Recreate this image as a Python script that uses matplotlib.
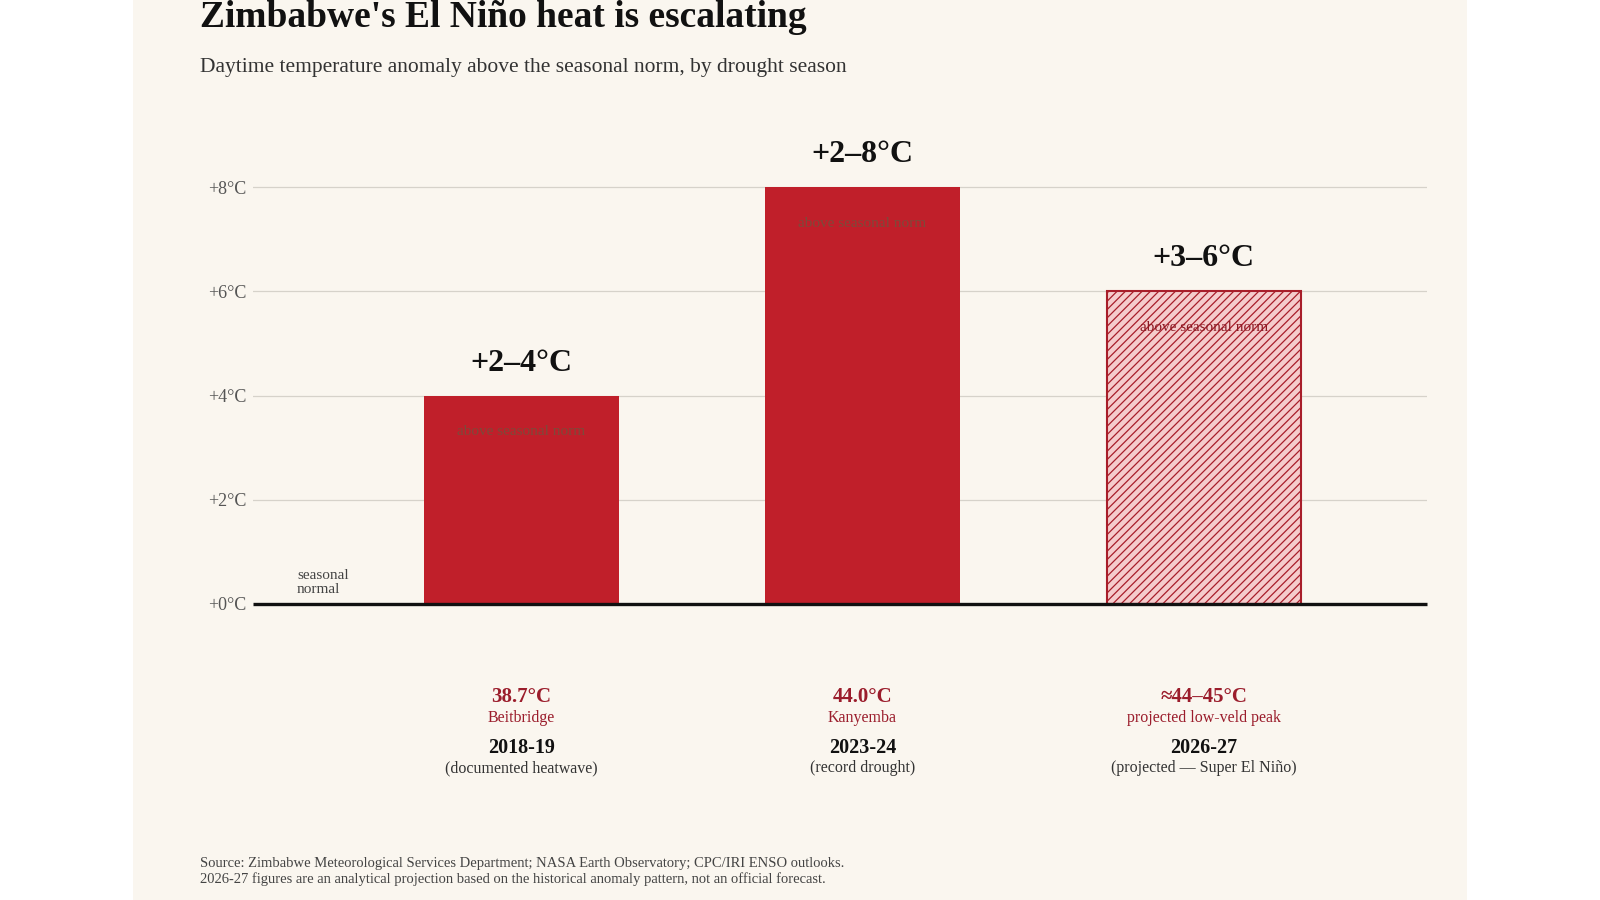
import matplotlib
matplotlib.use("Agg")
import matplotlib.pyplot as plt
from matplotlib.patches import Rectangle
from matplotlib.transforms import blended_transform_factory

plt.rcParams["font.family"] = ["Liberation Serif", "DejaVu Serif"]
plt.rcParams["hatch.linewidth"] = 0.9

# data
seasons = ["2018-19", "2023-24", "2026-27"]
season_notes = ["(documented heatwave)", "(record drought)", "(projected \u2014 Super El Ni\u00f1o)"]
anomaly_top = [4, 8, 6]
anomaly_labels = ["+2\u20134\u00b0C", "+2\u20138\u00b0C", "+3\u20136\u00b0C"]
peak_temps = ["38.7\u00b0C", "44.0\u00b0C", "\u224844\u201345\u00b0C"]
peak_places = ["Beitbridge", "Kanyemba", "projected low-veld peak"]
is_projection = [False, False, True]
y_ticks = [0, 2, 4, 6, 8]

RED = "#c01f2a"
DARK_RED = "#9b1d2c"
CREAM = "#faf6ef"

fig = plt.figure(figsize=(16, 9), dpi=100, facecolor="white")
fig.patches.append(Rectangle((133 / 1600, 0), 1334 / 1600, 1, transform=fig.transFigure,
                             facecolor=CREAM, edgecolor="none", zorder=-10))

ax = fig.add_axes([253 / 1600, 296 / 900, 1174 / 1600, 469 / 900])
ax.set_facecolor("none")

x = list(range(len(seasons)))
for i, (val, proj) in enumerate(zip(anomaly_top, is_projection)):
    if proj:
        ax.bar(i, val, width=0.57, facecolor="#f5cccc", edgecolor="#a81e2a",
               hatch="////", linewidth=1.5, zorder=3)
        inner_color = "#8b1a24"
    else:
        ax.bar(i, val, width=0.57, color=RED, zorder=3)
        inner_color = "#7d4a3a"
    ax.annotate(anomaly_labels[i], (i, val), xytext=(0, 18), textcoords="offset points",
                ha="center", va="baseline", fontsize=23, fontweight="bold", color="#111111")
    ax.annotate("above seasonal norm", (i, val), xytext=(0, -26), textcoords="offset points",
                ha="center", va="center", fontsize=11, color=inner_color, zorder=4)

ax.set_xlim(-0.786, 2.654)
ax.set_ylim(0, 9)
ax.set_yticks(y_ticks)
ax.set_yticklabels([f"+{t}\u00b0C" for t in y_ticks])
ax.tick_params(axis="y", length=0, pad=5, labelsize=13, labelcolor="#555555")
ax.set_xticks([])
for side in ["top", "right", "left", "bottom"]:
    ax.spines[side].set_visible(False)
for t in y_ticks[1:]:
    ax.axhline(t, color="#d6d2ca", linewidth=0.9, zorder=1)
ax.axhline(0, color="#111111", linewidth=2.4, zorder=5, clip_on=False, solid_capstyle="butt")

ax.text(-0.657, 0.16, "seasonal\nnormal", ha="left", va="bottom", fontsize=11,
        color="#444444", linespacing=1.05)

# labels under the bars
trans = blended_transform_factory(ax.transData, fig.transFigure)
for i in x:
    ax.text(i, 1 - 702 / 900, peak_temps[i], transform=trans, ha="center", va="baseline",
            fontsize=15, fontweight="bold", color=DARK_RED)
    ax.text(i, 1 - 722 / 900, peak_places[i], transform=trans, ha="center", va="baseline",
            fontsize=11.5, color=DARK_RED)
    ax.text(i, 1 - 753 / 900, seasons[i], transform=trans, ha="center", va="baseline",
            fontsize=14.5, fontweight="bold", color="#111111")
    ax.text(i, 1 - 772 / 900, season_notes[i], transform=trans, ha="center", va="baseline",
            fontsize=11.5, color="#333333")

fig.text(200 / 1600, 1 - 27 / 900, "Zimbabwe's El Ni\u00f1o heat is escalating",
         ha="left", va="baseline", fontsize=27, fontweight="bold", color="#111111")
fig.text(200 / 1600, 1 - 72 / 900,
         "Daytime temperature anomaly above the seasonal norm, by drought season",
         ha="left", va="baseline", fontsize=15.5, color="#333333")

fig.text(200 / 1600, 1 - 867 / 900,
         "Source: Zimbabwe Meteorological Services Department; NASA Earth Observatory; CPC/IRI ENSO outlooks.",
         ha="left", va="baseline", fontsize=10.5, color="#444444")
fig.text(200 / 1600, 1 - 883 / 900,
         "2026-27 figures are an analytical projection based on the historical anomaly pattern, not an official forecast.",
         ha="left", va="baseline", fontsize=10.5, color="#444444")

fig.savefig("out.png", dpi=100, facecolor=fig.get_facecolor())
